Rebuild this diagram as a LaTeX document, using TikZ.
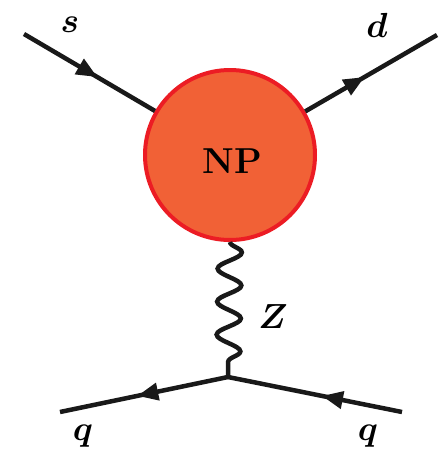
\documentclass[tikz,border=0pt]{standalone}
\usepackage{bm}
\usetikzlibrary{arrows.meta,decorations.pathmorphing,decorations.markings}
\definecolor{npfill}{HTML}{F16136}
\definecolor{npdraw}{HTML}{EC1C24}
\tikzset{
  fermion/.style={line width=4.5pt,draw=black!90,postaction={decorate},
    decoration={markings,mark=at position #1 with {\arrow{Triangle[length=21pt,width=17pt]}}}},
  boson/.style={line width=4.5pt,draw=black!90,decorate,
    decoration={snake,segment length=33pt,amplitude=12pt}},
  lbl/.style={font=\Huge,scale=1.4,inner sep=0pt}
}
\begin{document}
\begin{tikzpicture}[x=1pt,y=-1pt]
\useasboundingbox (0,0) rectangle (441,456);
\node[circle,minimum size=170pt,inner sep=0pt,fill=npfill,draw=npdraw,line width=4pt] (np) at (230,155) {};
\node[font=\Huge\bfseries,scale=1.45,inner sep=0pt] (nptext) at (232,161) {NP};
\coordinate (sa) at (24,34);
\coordinate (db) at (437,35);
\coordinate (v) at (228,377);
\coordinate (ql) at (60,412);
\coordinate (qr) at (402,412);
\draw[fermion=0.56] (sa) -- (np);
\draw[fermion=0.45] (np) -- (db);
\draw[boson] (np.south) -- (v);
\draw[fermion=0.54] (v) -- (ql);
\draw[fermion=0.46] (qr) -- (v);
\node[lbl] (ls) at (70,25) {$\bm{s}$};
\node[lbl] (ld) at (377,25) {$\bm{d}$};
\node[lbl] (lz) at (273,317) {$\bm{Z}$};
\node[lbl] (lq1) at (83,436) {$\bm{q}$};
\node[lbl] (lq2) at (368,436) {$\bm{q}$};
\end{tikzpicture}
\end{document}
